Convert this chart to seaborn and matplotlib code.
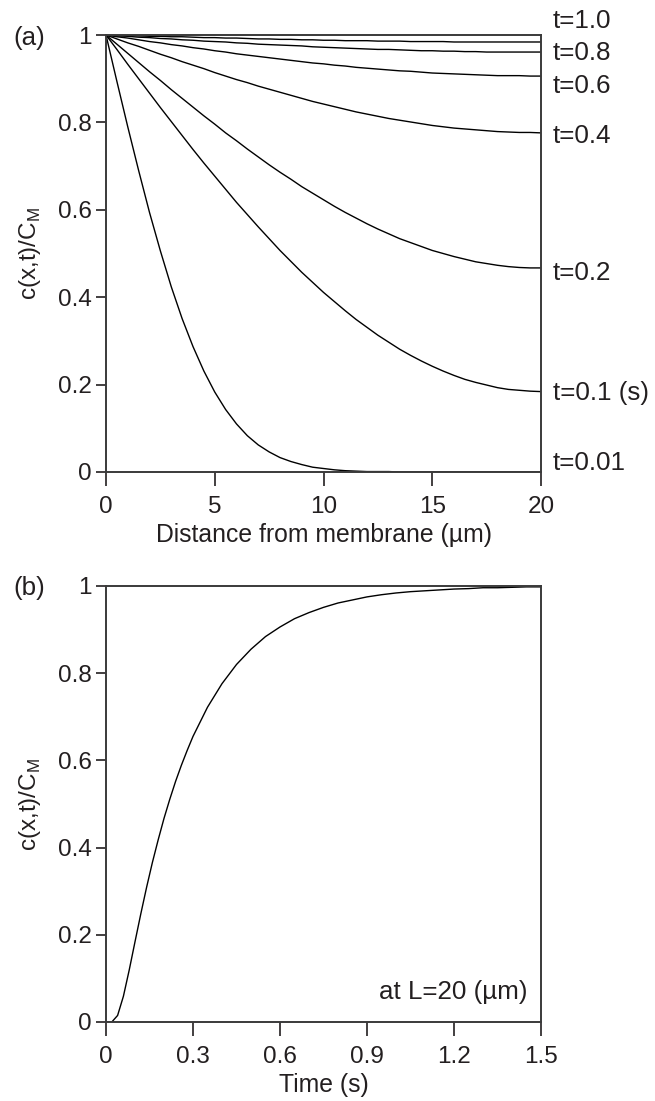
import numpy as np
import pandas as pd
import matplotlib
matplotlib.use("Agg")
import matplotlib.pyplot as plt
import seaborn as sns

# ---- data ----
x_um = [i * 0.5 for i in range(41)]  # distance from membrane, 0..20 um

c_t001 = [1.000, 0.894, 0.790, 0.690, 0.594, 0.506, 0.424, 0.351, 0.287, 0.231,
          0.183, 0.143, 0.110, 0.083, 0.062, 0.046, 0.033, 0.024, 0.017, 0.011,
          0.008, 0.005, 0.003, 0.002, 0.001, 0.001, 0.001, 0.000, 0.000, 0.000,
          0.000, 0.000, 0.000, 0.000, 0.000, 0.000, 0.000, 0.000, 0.000, 0.000, 0.000]
c_t01 = [1.000, 0.967, 0.933, 0.900, 0.867, 0.834, 0.802, 0.770, 0.738, 0.707,
         0.677, 0.647, 0.617, 0.589, 0.561, 0.534, 0.507, 0.482, 0.457, 0.434,
         0.411, 0.390, 0.369, 0.349, 0.331, 0.313, 0.297, 0.281, 0.267, 0.254,
         0.242, 0.231, 0.221, 0.212, 0.205, 0.199, 0.193, 0.189, 0.187, 0.185, 0.184]
c_t02 = [1.000, 0.979, 0.958, 0.937, 0.916, 0.896, 0.875, 0.855, 0.835, 0.815,
         0.796, 0.776, 0.758, 0.739, 0.721, 0.703, 0.686, 0.670, 0.653, 0.638,
         0.623, 0.608, 0.594, 0.581, 0.568, 0.556, 0.545, 0.534, 0.525, 0.516,
         0.507, 0.500, 0.493, 0.487, 0.481, 0.477, 0.473, 0.470, 0.468, 0.467, 0.467]
c_t04 = [1.000, 0.991, 0.982, 0.974, 0.965, 0.956, 0.948, 0.939, 0.931, 0.923,
         0.914, 0.906, 0.898, 0.891, 0.883, 0.876, 0.869, 0.862, 0.855, 0.848,
         0.842, 0.836, 0.830, 0.824, 0.819, 0.814, 0.809, 0.805, 0.801, 0.797,
         0.793, 0.790, 0.787, 0.785, 0.783, 0.781, 0.779, 0.778, 0.777, 0.777, 0.776]
c_t06 = [1.000, 0.996, 0.993, 0.989, 0.985, 0.982, 0.978, 0.975, 0.971, 0.968,
         0.964, 0.961, 0.957, 0.954, 0.951, 0.948, 0.945, 0.942, 0.939, 0.936,
         0.934, 0.931, 0.929, 0.926, 0.924, 0.922, 0.920, 0.918, 0.917, 0.915,
         0.913, 0.912, 0.911, 0.910, 0.909, 0.908, 0.907, 0.907, 0.907, 0.906, 0.906]
c_t08 = [1.000, 0.998, 0.997, 0.995, 0.994, 0.992, 0.991, 0.989, 0.988, 0.986,
         0.985, 0.984, 0.982, 0.981, 0.979, 0.978, 0.977, 0.976, 0.975, 0.973,
         0.972, 0.971, 0.970, 0.969, 0.968, 0.967, 0.967, 0.966, 0.965, 0.964,
         0.964, 0.963, 0.963, 0.962, 0.962, 0.961, 0.961, 0.961, 0.961, 0.961, 0.961]
c_t10 = [1.000, 0.999, 0.999, 0.998, 0.997, 0.997, 0.996, 0.996, 0.995, 0.994,
         0.994, 0.993, 0.993, 0.992, 0.991, 0.991, 0.990, 0.990, 0.989, 0.989,
         0.988, 0.988, 0.987, 0.987, 0.987, 0.986, 0.986, 0.986, 0.985, 0.985,
         0.985, 0.985, 0.984, 0.984, 0.984, 0.984, 0.984, 0.984, 0.984, 0.984, 0.984]

curve_labels = ['t=1.0', 't=0.8', 't=0.6', 't=0.4', 't=0.2', 't=0.1 (s)', 't=0.01']
curve_values = [c_t10, c_t08, c_t06, c_t04, c_t02, c_t01, c_t001]
label_y = [1.016, 0.943, 0.867, 0.753, 0.439, 0.165, 0.005]

time_s = [0.0, 0.02, 0.04, 0.06, 0.08, 0.1, 0.12, 0.14, 0.16, 0.18, 0.2, 0.22, 0.24,
          0.26, 0.28, 0.3, 0.35, 0.4, 0.45, 0.5, 0.55, 0.6, 0.65, 0.7, 0.75, 0.8,
          0.85, 0.9, 0.95, 1.0, 1.05, 1.1, 1.15, 1.2, 1.25, 1.3, 1.35, 1.4, 1.45, 1.5]
c_L20 = [0.000, 0.000, 0.015, 0.059, 0.119, 0.184, 0.248, 0.309, 0.366, 0.418,
         0.467, 0.511, 0.552, 0.589, 0.623, 0.655, 0.722, 0.776, 0.820, 0.855,
         0.884, 0.906, 0.925, 0.939, 0.951, 0.961, 0.968, 0.975, 0.980, 0.984,
         0.987, 0.989, 0.991, 0.993, 0.994, 0.996, 0.996, 0.997, 0.998, 0.998]

y_ticks = [0, 0.2, 0.4, 0.6, 0.8, 1.0]
y_ticklabels = ['0', '0.2', '0.4', '0.6', '0.8', '1']
xa_ticks = [0, 5, 10, 15, 20]
xb_ticks = [0, 0.3, 0.6, 0.9, 1.2, 1.5]
xb_ticklabels = ['0', '0.3', '0.6', '0.9', '1.2', '1.5']

# ---- style ----
sns.set_style("ticks")
plt.rcParams['font.family'] = ['Liberation Sans', 'DejaVu Sans']
TXT = '#231f20'
TICK_FS = 17.5
ANN_FS = 18.7

fig = plt.figure(figsize=(6.55, 11.01), dpi=100)
ax1 = fig.add_axes([106/655, 1-472/1101, 435/655, 437/1101])
ax2 = fig.add_axes([106/655, 1-1022/1101, 435/655, 436/1101])

df_a = pd.DataFrame({lab: vals for lab, vals in zip(curve_labels, curve_values)})
df_a['x'] = x_um
for lab in curve_labels:
    sns.lineplot(data=df_a, x='x', y=lab, ax=ax1, color='black', lw=1.0)
df_b = pd.DataFrame({'t': time_s, 'c': c_L20})
sns.lineplot(data=df_b, x='t', y='c', ax=ax2, color='black', lw=1.0)

for ax in (ax1, ax2):
    for sp in ax.spines.values():
        sp.set_linewidth(1.4); sp.set_color('#3a3a3a'); sp.set_visible(True)
    ax.set_ylim(0, 1)
    ax.set_yticks(y_ticks, y_ticklabels)
    ax.tick_params(axis='y', length=7, width=1.2, pad=3, labelsize=TICK_FS,
                   colors=TXT, direction='out')
    ax.tick_params(axis='x', length=10, width=1.2, pad=7, labelsize=TICK_FS,
                   colors=TXT, direction='out')
    ax.set_ylabel(r'c(x,t)/C$_\mathregular{M}$', fontsize=TICK_FS, color=TXT)
    ax.yaxis.set_label_coords(-0.145, 0.5)

ax1.set_xlim(0, 20)
ax1.set_xticks(xa_ticks)
ax1.set_xlabel('Distance from membrane (µm)', fontsize=17.8, color=TXT, labelpad=4)
ax2.set_xlim(0, 1.5)
ax2.set_xticks(xb_ticks, xb_ticklabels)
ax2.set_xlabel('Time (s)', fontsize=17.8, color=TXT, labelpad=4)

for lab, yv in zip(curve_labels, label_y):
    ax1.text(20.55, yv, lab, ha='left', va='baseline', fontsize=ANN_FS,
             color=TXT, clip_on=False)
ax2.text(1.455, 0.053, 'at L=20 (µm)', ha='right', va='baseline',
         fontsize=ANN_FS, color=TXT)
fig.text(13/655, 1-38/1101, '(a)', ha='left', va='center', fontsize=ANN_FS, color=TXT)
fig.text(13/655, 1-588/1101, '(b)', ha='left', va='center', fontsize=ANN_FS, color=TXT)

fig.savefig('out.png', dpi=100)
